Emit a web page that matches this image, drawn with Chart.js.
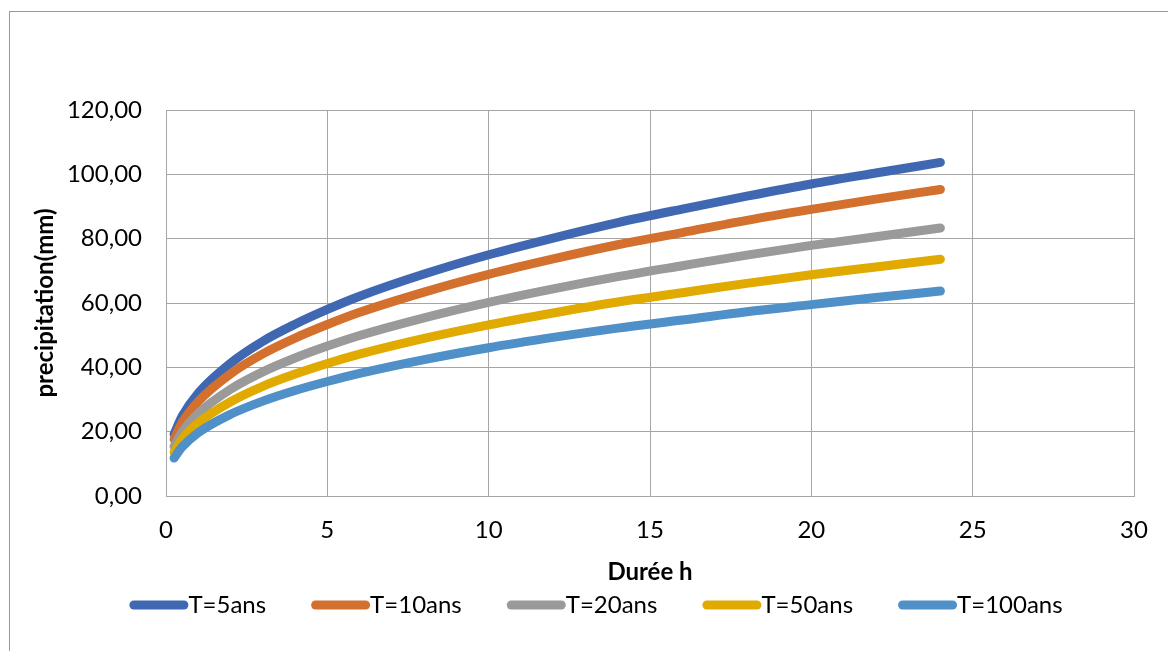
<!DOCTYPE html>
<html>
<head>
<meta charset="utf-8">
<script src="https://cdn.jsdelivr.net/npm/chart.js@4.4.1/dist/chart.umd.min.js"></script>
<style>
  body { margin: 0; background: #fff; }
  #frame { position: absolute; left: 9px; top: 11px; width: 1170px; height: 650px;
           border-left: 1px solid #9a9a9a; border-top: 1px solid #9a9a9a; }
  #c { position: absolute; left: 0; top: 0; }
</style>
</head>
<body>
<div id="frame"></div>
<canvas id="c" width="1168" height="651"></canvas>
<script>
// durée (h)
var durees = [0.25, 0.5, 1, 2, 3, 4, 5, 6, 8, 10, 12, 14, 16, 18, 20, 22, 24];

// precipitation (mm)
var t5   = [19.2, 24.8, 32.0, 41.3, 48.1, 53.4, 58.0, 62.1, 69.0, 75.0, 80.2, 85.0, 89.2, 93.2, 97.0, 100.4, 103.7];
var t10  = [17.6, 22.8, 29.4, 38.0, 44.2, 49.1, 53.3, 57.1, 63.4, 68.9, 73.7, 78.1, 81.9, 85.7, 89.1, 92.3, 95.3];
var t20  = [15.4, 19.9, 25.7, 33.2, 38.6, 42.9, 46.6, 49.9, 55.4, 60.2, 64.4, 68.2, 71.6, 74.9, 77.9, 80.6, 83.3];
var t50  = [13.6, 17.6, 22.7, 29.3, 34.1, 37.9, 41.2, 44.1, 49.0, 53.2, 56.9, 60.3, 63.2, 66.1, 68.8, 71.2, 73.6];
var t100 = [11.8, 15.2, 19.7, 25.4, 29.5, 32.8, 35.6, 38.1, 42.4, 46.1, 49.3, 52.2, 54.7, 57.3, 59.5, 61.7, 63.7];

var seriesNames = ["T=5ans", "T=10ans", "T=20ans", "T=50ans", "T=100ans"];
var seriesData = [t5, t10, t20, t50, t100];
var colors = ["#4068b2", "#d4702e", "#9a9a9a", "#e0aa00", "#5090c8"];

var FONT = "Lato, 'Open Sans', sans-serif";
var gridColor = "#a6a6a6";

function pts(arr) {
    return durees.map(function (d, i) { return { x: d, y: arr[i] }; });
}

var datasets = seriesData.map(function (arr, i) {
    return {
        label: seriesNames[i],
        data: pts(arr),
        borderColor: colors[i],
        backgroundColor: colors[i],
        borderWidth: 9,
        borderCapStyle: "round",
        borderJoinStyle: "round",
        pointRadius: 0,
        cubicInterpolationMode: "monotone",
        order: seriesData.length - i
    };
});

// legende dessinee a la main (style Excel : trait + texte colle)
var legendPlugin = {
    id: "excelLegend",
    afterDraw: function (chart) {
        var ctx = chart.ctx;
        var ds = chart.data.datasets;
        var sw = 59, gap = 0, spacing = 45, cy = 605;
        ctx.save();
        ctx.font = "24px " + FONT;
        var total = 0;
        var widths = ds.map(function (d) { return ctx.measureText(d.label).width; });
        widths.forEach(function (w, i) { total += sw + gap + w + (i < widths.length - 1 ? spacing : 0); });
        var x = 596 - total / 2;
        ds.forEach(function (d, i) {
            ctx.strokeStyle = d.borderColor;
            ctx.lineWidth = 9;
            ctx.lineCap = "round";
            ctx.beginPath();
            ctx.moveTo(x + 4.5, cy);
            ctx.lineTo(x + sw - 4.5, cy);
            ctx.stroke();
            ctx.fillStyle = "#000";
            ctx.textBaseline = "middle";
            ctx.textAlign = "left";
            ctx.fillText(d.label, x + sw + gap, cy);
            x += sw + gap + widths[i] + spacing;
        });
        ctx.restore();
    }
};

new Chart(document.getElementById("c"), {
    type: "line",
    data: { datasets: datasets },
    plugins: [legendPlugin],
    options: {
        responsive: false,
        animation: false,
        layout: { padding: { top: 110, right: 34, bottom: 59, left: 0 } },
        plugins: { legend: { display: false }, tooltip: { enabled: false } },
        scales: {
            x: {
                type: "linear",
                min: 0, max: 30,
                afterFit: function (s) { s.height = 96; },
                ticks: { stepSize: 5, color: "#000", font: { family: FONT, size: 24 }, padding: 20 },
                grid: { color: gridColor, drawTicks: false },
                border: { color: gridColor },
                title: { display: true, text: "Durée h", color: "#000",
                         font: { family: FONT, size: 24, weight: "bold" }, padding: { top: 0, bottom: 5 } }
            },
            y: {
                min: 0, max: 120,
                afterFit: function (s) { s.width = 166; },
                ticks: { stepSize: 20, color: "#000", font: { family: FONT, size: 24 }, padding: 24,
                         callback: function (v) { return v.toFixed(2).replace(".", ","); } },
                grid: { color: gridColor, drawTicks: false },
                border: { color: gridColor },
                title: { display: true, text: "precipitation(mm)", color: "#000",
                         font: { family: FONT, size: 24, weight: "bold" }, padding: { top: 31, bottom: 0 } }
            }
        }
    }
});
</script>
</body>
</html>
